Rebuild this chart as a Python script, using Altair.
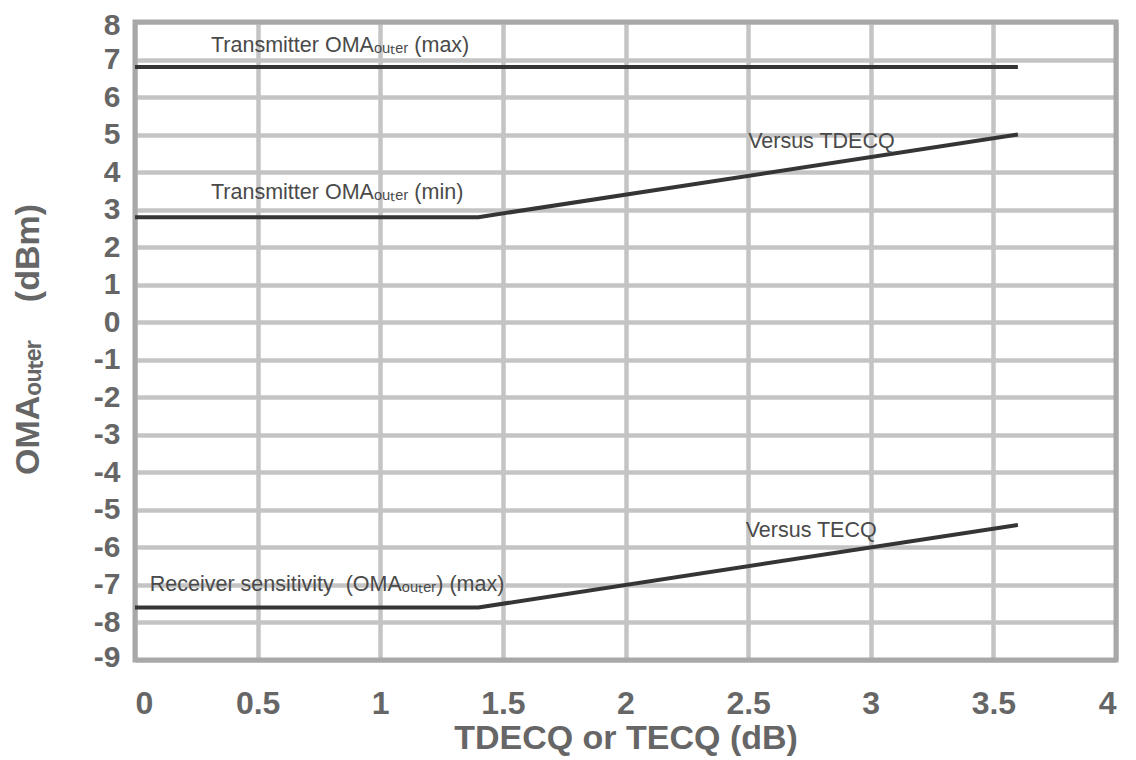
import altair as alt
import pandas as pd

# ---- data ----
x_points = [0, 1.4, 3.6]
tx_max = [6.8, 6.8, 6.8]
tx_min = [2.8, 2.8, 5.0]
rx_sens = [-7.6, -7.6, -5.4]

x_ticks = [0, 0.5, 1, 1.5, 2, 2.5, 3, 3.5, 4]
y_ticks = [-9, -8, -7, -6, -5, -4, -3, -2, -1, 0, 1, 2, 3, 4, 5, 6, 7, 8]

SUB = "\u2092\u1d64\u209c\u2091\u1d63"  # subscript "outer"
NB = "\u00a0"
label_texts = [
    f"Transmitter OMA{SUB} (max)",
    f"Transmitter OMA{SUB} (min)",
    "Versus TDECQ",
    "Versus TECQ",
    f"Receiver sensitivity{NB}{NB}(OMA{SUB}) (max)",
]
label_x = [0.31, 0.31, 2.5, 2.49, 0.06]
label_y = [7.35, 3.44, 4.8, -5.55, -7.0]

rows = []
for name, ys in [("tx_max", tx_max), ("tx_min", tx_min), ("rx_sens", rx_sens)]:
    for xv, yv in zip(x_points, ys):
        rows.append({"series": name, "x": xv, "y": yv})
lines_df = pd.DataFrame(rows)
labels_df = pd.DataFrame({"text": label_texts, "x": label_x, "y": label_y})
border_df = pd.DataFrame({"x": [x_ticks[0]], "x2": [x_ticks[-1]],
                          "y": [y_ticks[0]], "y2": [y_ticks[-1]]})

FONT = "Liberation Sans"

x_axis = alt.Axis(
    values=x_ticks,
    format="~g",
    title="TDECQ or TECQ (dB)",
    titleY=78,
    titleBaseline="middle",
    labelBaseline="middle",
    labelPadding=43,
    labelOverlap=False,
    labelFontSize=32,
)
y_axis = alt.Axis(
    values=y_ticks,
    tickCount=len(y_ticks),
    labelExpr="'' + datum.value",
    labelOverlap=False,
    labelPadding=15,
    labelFontSize=30,
    labelFlush=True,
    labelFlushOffset=12,
    title="OMA" + SUB + NB * 4 + "(dBm)",
    titleX=-107,
    titleY=317,
    titleAngle=270,
    titleBaseline="middle",
    titleAlign="center",
)
x_scale = alt.Scale(domain=[0, 4], nice=False)
y_scale = alt.Scale(domain=[-9, 8], nice=False)


def xe():
    return alt.X("x:Q", scale=x_scale, axis=x_axis)


def ye():
    return alt.Y("y:Q", scale=y_scale, axis=y_axis)


border = alt.Chart(border_df).mark_rect(
    filled=False, stroke="#a8a8a8", strokeWidth=5
).encode(x=xe(), x2="x2:Q", y=ye(), y2="y2:Q")

lines = alt.Chart(lines_df).mark_line(color="#353535", strokeWidth=4).encode(
    x=xe(), y=ye(), detail="series:N"
)

texts = alt.Chart(labels_df).mark_text(
    align="left", baseline="middle", fontSize=21.5, font=FONT, color="#4a4a4a"
).encode(x=xe(), y=ye(), text="text:N")

chart = (
    alt.layer(border, lines, texts)
    .properties(
        width=981,
        height=638,
        autosize=alt.AutoSizeParams(type="none"),
        padding={"left": 127, "top": 14, "right": 12, "bottom": 100},
        background="white",
    )
    .configure_view(stroke=None)
    .configure_axis(
        grid=True,
        gridColor="#c4c4c4",
        gridWidth=4.5,
        domain=False,
        ticks=False,
        labelFont=FONT,
        labelFontWeight="bold",
        labelColor="#666666",
        titleFont=FONT,
        titleFontSize=34,
        titleFontWeight="bold",
        titleColor="#666666",
    )
)

chart.save("out.html", embed_options={"renderer": "svg", "actions": False})
